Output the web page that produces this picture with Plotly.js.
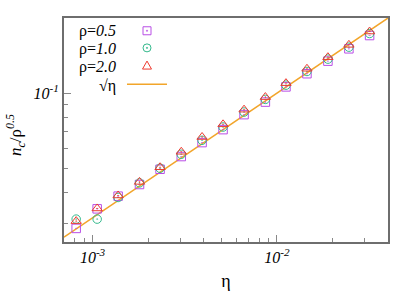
<!DOCTYPE html>
<html>
<head>
<meta charset="utf-8">
<script src="https://cdn.plot.ly/plotly-3.0.1.min.js"></script>
<style>html,body{margin:0;padding:0;background:#fff;}#chart{width:415px;height:291px;}</style>
</head>
<body>
<div id="chart"></div>
<script>
// eta values (x)
const eta = [0.000815, 0.001059, 0.001376, 0.001797, 0.002323, 0.003027, 0.003925, 0.00510, 0.00663, 0.00865, 0.01119, 0.01454, 0.01889, 0.02455, 0.03178];
// n_c / rho^0.5 for each rho
const rho05 = [0.02868, 0.03436, 0.03862, 0.04301, 0.04951, 0.05567, 0.06333, 0.07138, 0.08196, 0.09204, 0.1059, 0.1196, 0.1343, 0.1505, 0.1701];
const rho10 = [0.03125, 0.03125, 0.03816, 0.04365, 0.04997, 0.05686, 0.06468, 0.07311, 0.08395, 0.09436, 0.1076, 0.1221, 0.1368, 0.1528, 0.1733];
const rho20 = [0.03068, 0.03448, 0.03887, 0.04406, 0.05043, 0.05818, 0.06668, 0.07495, 0.08582, 0.09638, 0.1096, 0.1252, 0.1393, 0.1561, 0.1765];
// reference line sqrt(eta)
const lineEta = [0.0007, 0.04];
const lineVal = [0.026458, 0.2];
// labels
const seriesNames = ['ρ=<i>0.5</i>', 'ρ=<i>1.0</i>', 'ρ=<i>2.0</i>', '√η'];
const xTitle = 'η';
const yTitle = '<i>n<sub>c</sub></i>/ρ<sup><i>0.5</i></sup>';
const xTickVals = [0.001, 0.01];
const xTickText = ['<i>10<sup>-3</sup></i>', '<i>10<sup>-2</sup></i>'];
const yTickVals = [0.1];
const yTickText = ['<i>10<sup>-1</sup></i>'];
const xMinorVals = [0.0007, 0.0008, 0.0009, 0.002, 0.003, 0.004, 0.005, 0.006, 0.007, 0.008, 0.009, 0.02, 0.03];
const yMinorVals = [0.03, 0.04, 0.05, 0.06, 0.07, 0.08, 0.09];

const colors = {sq: '#b94ee6', ci: '#33b98c', tr: '#ee3b30', ln: '#f2a52a'};
const font = '"Liberation Serif", "Times New Roman", serif';

const traces = [
  {x: lineEta, y: lineVal, mode: 'lines', line: {color: colors.ln, width: 1.5}, name: seriesNames[3]},
  {x: eta, y: rho05, mode: 'markers', name: seriesNames[0],
   marker: {symbol: 'square-open-dot', size: 8.5, color: colors.sq, line: {width: 1, color: colors.sq}}},
  {x: eta, y: rho10, mode: 'markers', name: seriesNames[1],
   marker: {symbol: 'circle-open-dot', size: 8.5, color: colors.ci, line: {width: 1, color: colors.ci}}},
  {x: eta, y: rho20, mode: 'markers', name: seriesNames[2],
   marker: {symbol: 'triangle-up-open-dot', size: 9, color: colors.tr, line: {width: 1, color: colors.tr}}}
];

// legend layout (paper coordinates)
const legTextX = 0.167;
const legY = [0.943, 0.8616, 0.7826, 0.6964];
const legSymX = 0.2562;

const annotations = seriesNames.map((t, i) => ({
  xref: 'paper', yref: 'paper', x: legTextX, y: legY[i], xanchor: 'right', yanchor: 'middle',
  text: t, showarrow: false, font: {family: font, size: 16, color: '#000'}
}));
annotations.push({
  xref: 'paper', yref: 'paper', x: -0.148, y: 0.478, xanchor: 'center', yanchor: 'middle',
  textangle: -90, text: yTitle, showarrow: false, font: {family: font, size: 17, color: '#000'}
});

const shapes = [
  {type: 'rect', xref: 'paper', yref: 'paper', xsizemode: 'pixel', ysizemode: 'pixel',
   xanchor: legSymX, yanchor: legY[0], x0: -4, x1: 4, y0: -4, y1: 4, line: {color: colors.sq, width: 1}},
  {type: 'circle', xref: 'paper', yref: 'paper', xsizemode: 'pixel', ysizemode: 'pixel',
   xanchor: legSymX, yanchor: legY[0], x0: -0.6, x1: 0.6, y0: -0.6, y1: 0.6, line: {color: colors.sq, width: 1}},
  {type: 'circle', xref: 'paper', yref: 'paper', xsizemode: 'pixel', ysizemode: 'pixel',
   xanchor: legSymX, yanchor: legY[1] + 0.005, x0: -4, x1: 4, y0: -4, y1: 4, line: {color: colors.ci, width: 1}},
  {type: 'circle', xref: 'paper', yref: 'paper', xsizemode: 'pixel', ysizemode: 'pixel',
   xanchor: legSymX, yanchor: legY[1] + 0.005, x0: -0.6, x1: 0.6, y0: -0.6, y1: 0.6, line: {color: colors.ci, width: 1}},
  {type: 'path', xref: 'paper', yref: 'paper', xsizemode: 'pixel', ysizemode: 'pixel',
   xanchor: legSymX, yanchor: legY[2] + 0.005, path: 'M-4.5,-3.5 L4.5,-3.5 L0,4.5 Z', line: {color: colors.tr, width: 1}},
  {type: 'line', xref: 'paper', yref: 'paper', x0: 0.1944, x1: 0.3179, y0: 0.704, y1: 0.704,
   line: {color: colors.ln, width: 1.5}}
];

const axisCommon = {
  type: 'log', showgrid: false, zeroline: false, showline: true, mirror: true,
  linecolor: '#6e6e6e', linewidth: 2, ticks: 'inside', ticklen: 7, tickwidth: 1, tickcolor: '#888',
  tickmode: 'array', tickfont: {family: font, size: 16, color: '#000'}
};

const layout = {
  width: 415, height: 291,
  margin: {l: 64, r: 27, t: 18, b: 49},
  paper_bgcolor: '#fff', plot_bgcolor: '#fff',
  showlegend: false,
  font: {family: font},
  xaxis: Object.assign({}, axisCommon, {
    range: [Math.log10(0.0007), Math.log10(0.04)],
    tickvals: xTickVals, ticktext: xTickText,
    minor: {tickmode: 'array', tickvals: xMinorVals, ticks: 'inside', ticklen: 4, tickcolor: '#888'},
    title: {text: xTitle, font: {family: font, size: 18, color: '#000'}, standoff: 10}
  }),
  yaxis: Object.assign({}, axisCommon, {
    range: [Math.log10(0.0253), Math.log10(0.2)],
    tickvals: yTickVals, ticktext: yTickText,
    minor: {tickmode: 'array', tickvals: yMinorVals, ticks: 'inside', ticklen: 4, tickcolor: '#888'}
  }),
  annotations: annotations,
  shapes: shapes
};

Plotly.newPlot('chart', traces, layout, {displayModeBar: false, staticPlot: true});
</script>
</body>
</html>
